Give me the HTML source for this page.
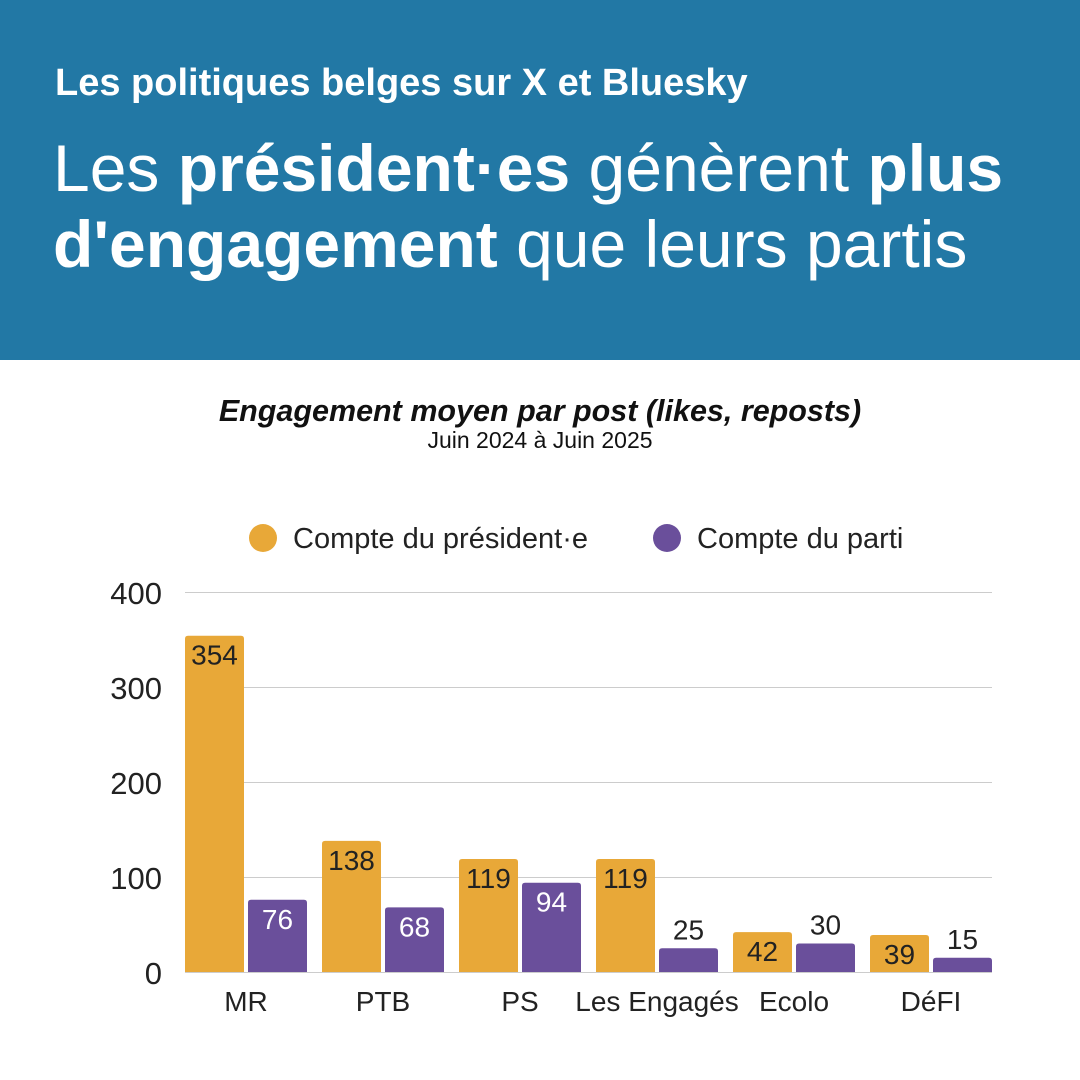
<!DOCTYPE html>
<html><head><meta charset="utf-8"><style>
body{margin:0;width:1080px;height:1080px;background:#fff;font-family:"Liberation Sans","DejaVu Sans",sans-serif;overflow:hidden}
.hdr{position:absolute;left:0;top:0;width:1080px;height:360px;background:#2278a5;color:#fff}
</style></head><body>
<div class="hdr">
<div style="position:absolute;left:55px;top:62px;font-size:38px;font-weight:bold">Les politiques belges sur X et Bluesky</div>
<div style="position:absolute;left:53px;top:130px;font-size:66px;line-height:76px;">Les <b>président·es</b> génèrent <b>plus</b><br><b>d'engagement</b> que leurs partis</div>
</div>
<svg width="1080" height="1080" style="position:absolute;left:0;top:0" font-family="Liberation Sans, DejaVu Sans, sans-serif">
<text x="540" y="421" text-anchor="middle" font-size="30.5" font-weight="bold" font-style="italic" fill="#111">Engagement moyen par post (likes, reposts)</text>
<text x="540" y="448" text-anchor="middle" font-size="23" fill="#111">Juin 2024 à Juin 2025</text>
<circle cx="263" cy="538" r="14" fill="#e8a838"/><text x="293" y="548" font-size="29" fill="#222">Compte du président·e</text>
<circle cx="667" cy="538" r="14" fill="#6a4f9b"/><text x="697" y="548" font-size="29" fill="#222">Compte du parti</text>
<g stroke="#ccc" stroke-width="1">
<line x1="185" x2="992" y1="592.5" y2="592.5"/><line x1="185" x2="992" y1="687.5" y2="687.5"/><line x1="185" x2="992" y1="782.5" y2="782.5"/><line x1="185" x2="992" y1="877.5" y2="877.5"/><line x1="185" x2="992" y1="972.5" y2="972.5"/>
</g>
<g font-size="31" fill="#222" text-anchor="end">
<text x="162" y="604">400</text><text x="162" y="699">300</text><text x="162" y="794">200</text><text x="162" y="889">100</text><text x="162" y="984">0</text>
</g>
<g id="bars"></g>
<g font-size="28" fill="#222" text-anchor="middle">
<text x="246" y="1011">MR</text><text x="383" y="1011">PTB</text><text x="520" y="1011">PS</text><text x="657" y="1011">Les Engagés</text><text x="794" y="1011">Ecolo</text><text x="931" y="1011">DéFI</text>
</g>
</svg>
<script>
var d=[[354,76],[138,68],[119,94],[119,25],[42,30],[39,15]];
var g=document.getElementById('bars'),h='';
d.forEach(function(p,i){
 [0,1].forEach(function(j){
  var v=p[j],x=185+i*137+j*63,y=972-v*0.95,c=j?'#6a4f9b':'#e8a838';
  h+='<path d="M'+x+' 972 V'+(y+3)+' Q'+x+' '+y+' '+(x+3)+' '+y+' H'+(x+56)+' Q'+(x+59)+' '+y+' '+(x+59)+' '+(y+3)+' V972 Z" fill="'+c+'"/>';
  var inside=v>=35, ty=inside?y+29:y-9, col=inside?(j?'#fff':'#222'):'#222';
  h+='<text x="'+(x+29.5)+'" y="'+ty+'" text-anchor="middle" font-size="28" fill="'+col+'">'+v+'</text>';
 });
});
g.innerHTML=h;
</script>
</body></html>
